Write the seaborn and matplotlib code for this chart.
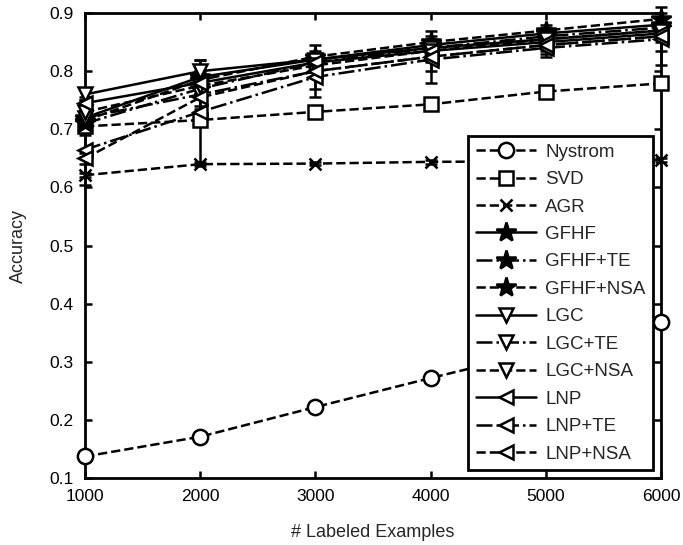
import numpy as np
import pandas as pd
import matplotlib
matplotlib.use("Agg")
import matplotlib.pyplot as plt
import seaborn as sns

# labeled examples on x axis
labeled = [1000, 2000, 3000, 4000, 5000, 6000]

# mean accuracy per method
nystrom = [0.137, 0.171, 0.222, 0.272, 0.320, 0.369]
svd = [0.705, 0.716, 0.730, 0.743, 0.765, 0.779]
agr = [0.621, 0.640, 0.641, 0.644, 0.645, 0.647]
gfhf = [0.720, 0.790, 0.820, 0.845, 0.865, 0.880]
gfhf_te = [0.710, 0.770, 0.815, 0.840, 0.860, 0.875]
gfhf_nsa = [0.715, 0.785, 0.825, 0.850, 0.870, 0.890]
lgc = [0.760, 0.800, 0.820, 0.840, 0.855, 0.870]
lgc_te = [0.720, 0.760, 0.800, 0.825, 0.845, 0.860]
lgc_nsa = [0.730, 0.775, 0.810, 0.835, 0.855, 0.870]
lnp = [0.745, 0.780, 0.815, 0.835, 0.850, 0.865]
lnp_te = [0.665, 0.730, 0.790, 0.820, 0.840, 0.855]
lnp_nsa = [0.650, 0.755, 0.800, 0.825, 0.845, 0.860]

# standard deviations (error bars)
nystrom_err = [0.008, 0.008, 0.008, 0.008, 0.008, 0.008]
svd_err = [0.005, 0.005, 0.005, 0.005, 0.005, 0.008]
agr_err = [0.003, 0.003, 0.003, 0.003, 0.003, 0.003]
gfhf_err = [0.01, 0.01, 0.01, 0.01, 0.01, 0.01]
lgc_err = [0.01, 0.02, 0.01, 0.01, 0.01, 0.01]
lnp_te_err = [0.06, 0.09, 0.02, 0.02, 0.01, 0.02]
lgc_te_err = [0.03, 0.02, 0.045, 0.045, 0.02, 0.05]

methods = ["Nystrom", "SVD", "AGR", "GFHF", "GFHF+TE", "GFHF+NSA",
           "LGC", "LGC+TE", "LGC+NSA", "LNP", "LNP+TE", "LNP+NSA"]
values = [nystrom, svd, agr, gfhf, gfhf_te, gfhf_nsa,
          lgc, lgc_te, lgc_nsa, lnp, lnp_te, lnp_nsa]
errors = [nystrom_err, svd_err, agr_err, gfhf_err, gfhf_err, gfhf_err,
          lgc_err, lgc_te_err, lgc_err, lgc_err, lnp_te_err, lgc_err]

markers = ["o", "s", "x", "*", "*", "*", "v", "v", "v", "<", "<", "<"]
styles = ["--", "--", "--", "-", "-.", "--", "-", "-.", "--", "-", "-.", "--"]
msizes = [11, 10, 8, 15, 15, 15, 10, 10, 10, 10, 10, 10]

sns.set_style("ticks")
plt.rcParams["font.family"] = ["Liberation Sans", "DejaVu Sans"]

fig = plt.figure(figsize=(6.83, 5.45), dpi=100)
ax = fig.add_axes([0.1245, 0.123, 0.8435, 0.853])

for name, vals, err, mk, ls, ms in zip(methods, values, errors, markers, styles, msizes):
    df = pd.DataFrame({"x": labeled, "y": vals})
    ax.errorbar(labeled, vals, yerr=err, fmt="none", ecolor="black",
                elinewidth=1.8, capsize=4, capthick=1.8, zorder=2, clip_on=False)
    face = "black" if mk in ("*", "x") else "white"
    sns.lineplot(data=df, x="x", y="y", ax=ax, color="black", linestyle=ls,
                 linewidth=1.8, marker=mk, markersize=ms, markerfacecolor=face,
                 markeredgecolor="black", markeredgewidth=1.8, label=name,
                 zorder=3, clip_on=False)

ax.set_xlim(1000, 6000)
ax.set_ylim(0.1, 0.9)
ax.set_xticks(labeled)
ax.set_yticks(np.arange(0.1, 0.91, 0.1))
ax.set_yticklabels(["0.1", "0.2", "0.3", "0.4", "0.5", "0.6", "0.7", "0.8", "0.9"])
ax.tick_params(direction="in", top=True, right=True, width=1.8, length=5,
               labelsize=12.5, colors="black")
ax.tick_params(axis="x", pad=8)
ax.tick_params(axis="y", pad=8)
for sp in ax.spines.values():
    sp.set_linewidth(2)
    sp.set_color("black")
ax.set_xlabel("# Labeled Examples", fontsize=13, labelpad=14)
ax.set_ylabel("Accuracy", fontsize=13, labelpad=16)

leg = ax.legend(loc="lower right", bbox_to_anchor=(0.986, 0.017), fontsize=13.5,
                frameon=True, fancybox=False, framealpha=1, edgecolor="black",
                handlelength=3.2, borderpad=0.4, labelspacing=0.55,
                handletextpad=0.5, borderaxespad=0)
leg.get_frame().set_linewidth(2)

fig.savefig("out.png", dpi=100)
